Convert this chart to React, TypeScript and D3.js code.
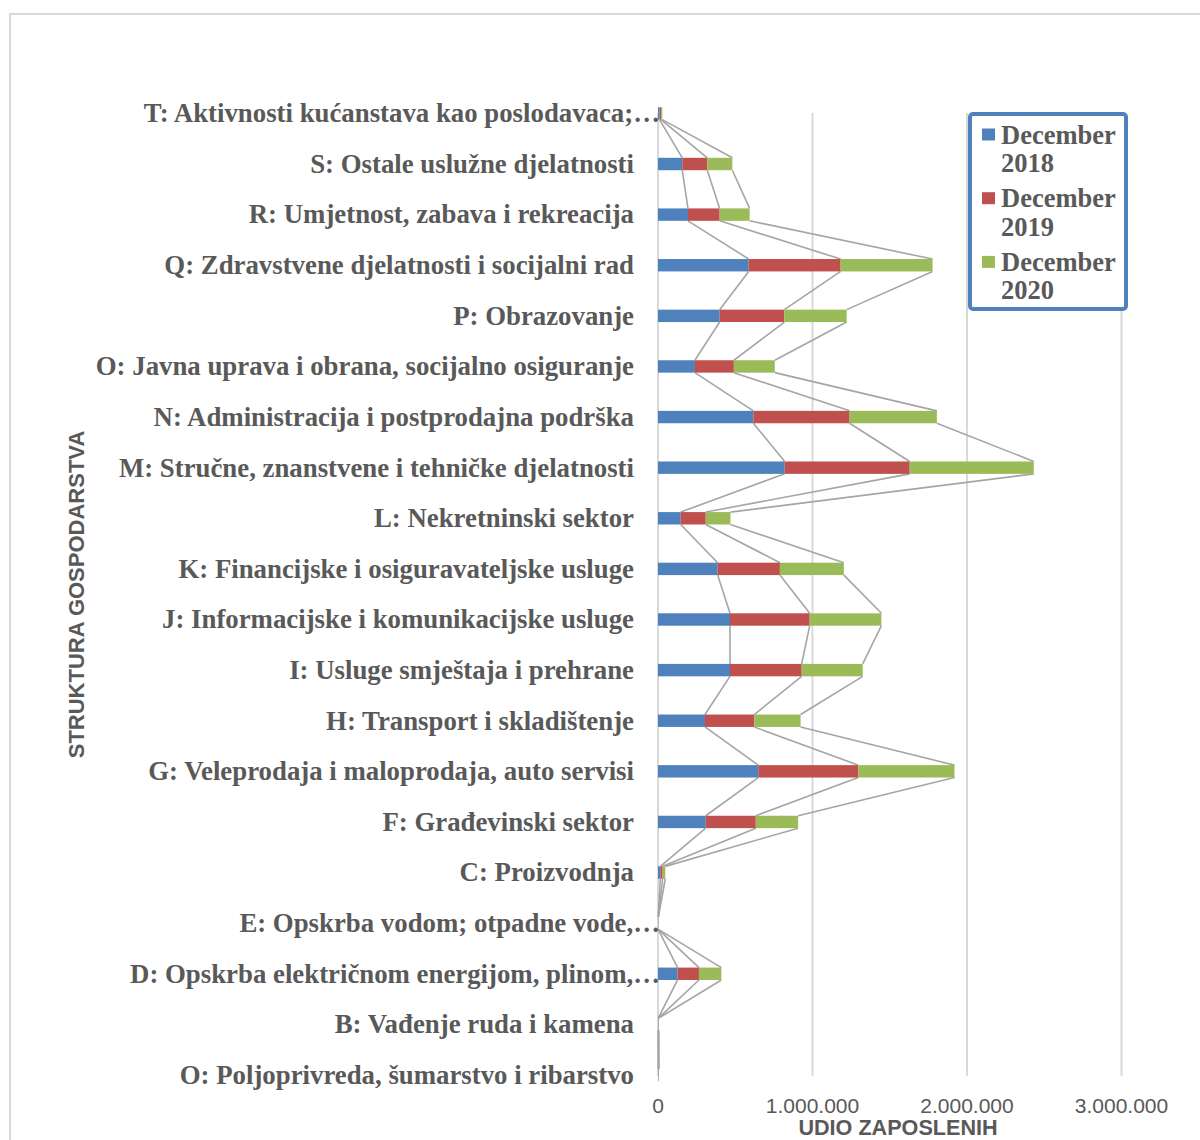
import React from 'react';
import * as d3 from 'd3';

// categories listed top to bottom as shown on the chart
const categories = [
  'T: Aktivnosti kućanstava kao poslodavaca;…',
  'S: Ostale uslužne djelatnosti',
  'R: Umjetnost, zabava i rekreacija',
  'Q: Zdravstvene djelatnosti i socijalni rad',
  'P: Obrazovanje',
  'O: Javna uprava i obrana, socijalno osiguranje',
  'N: Administracija i postprodajna podrška',
  'M: Stručne, znanstvene i tehničke djelatnosti',
  'L: Nekretninski sektor',
  'K: Financijske i osiguravateljske usluge',
  'J: Informacijske i komunikacijske usluge',
  'I: Usluge smještaja i prehrane',
  'H: Transport i skladištenje',
  'G: Veleprodaja i maloprodaja, auto servisi',
  'F: Građevinski sektor',
  'C: Proizvodnja',
  'E: Opskrba vodom; otpadne vode,…',
  'D: Opskrba električnom energijom, plinom,…',
  'B: Vađenje ruda i kamena',
  'O: Poljoprivreda, šumarstvo i ribarstvo',
];

const dec2018 = [10000, 157000, 194000, 587000, 399000, 239000, 617000, 820000, 147000, 386000, 466000, 466000, 304000, 649000, 309000, 15000, 1000, 127000, 1500, 2000];
const dec2019 = [10000, 162000, 205000, 595000, 419000, 252000, 623000, 809000, 162000, 403000, 516000, 464000, 319000, 647000, 324000, 15000, 1000, 138000, 1500, 2000];
const dec2020 = [8000, 162000, 194000, 595000, 403000, 265000, 565000, 803000, 160000, 414000, 464000, 395000, 300000, 623000, 274000, 17000, 1000, 145000, 1500, 2000];

const seriesNames = ['December 2018', 'December 2019', 'December 2020'];
const seriesColors = ['#4f81bd', '#c0504d', '#9bbb59'];
const xTicks = [0, 1000000, 2000000, 3000000];

const W = 1200;
const H = 1140;
const barH = 12.4;
const labelFont = '"Liberation Serif", "Times New Roman", serif';
const axisFont = '"Liberation Sans", Arial, sans-serif';
const textColor = '#595959';

const fmt = (v: number) => d3.format(',')(v).replace(/,/g, '.');

export default function App() {
  const x = d3.scaleLinear().domain([0, 3000000]).range([658, 1121.5]);
  const y = d3.scalePoint<string>().domain(categories).range([113.4, 1075]);

  const rows = categories.map((c, i) => ({ cat: c, s0: dec2018[i], s1: dec2019[i], s2: dec2020[i] }));
  const stacked = d3.stack<any>().keys(['s0', 's1', 's2'])(rows);

  const plotTop = 113;
  const plotBottom = 1076;

  // series lines: connect segment ends of neighbouring categories
  const seriesLines: { x1: number; y1: number; x2: number; y2: number }[] = [];
  stacked.forEach((layer) => {
    for (let i = 0; i < categories.length - 1; i++) {
      const a = layer[i];
      const b = layer[i + 1];
      seriesLines.push({
        x1: x(a[1]),
        y1: (y(categories[i]) as number) + barH / 2,
        x2: x(b[1]),
        y2: (y(categories[i + 1]) as number) - barH / 2,
      });
    }
  });

  const legendX = 970;
  const legendY = 114;

  return (
    <svg width={W} height={H} style={{ position: 'absolute', left: 0, top: 0, background: '#fff' }}>
      <rect x={0} y={0} width={W} height={H} fill="#fff" />
      {/* chart border */}
      <rect x={10} y={14} width={W + 20} height={H + 20} fill="none" stroke="#d9d9d9" strokeWidth={2} />

      {/* gridlines */}
      {xTicks.map((t) => (
        <line key={t} x1={x(t)} x2={x(t)} y1={plotTop} y2={plotBottom} stroke="#d9d9d9" strokeWidth={2} />
      ))}

      {/* series lines */}
      {seriesLines.map((l, i) => (
        <line key={i} x1={l.x1} y1={l.y1} x2={l.x2} y2={l.y2} stroke="#a5a5a5" strokeWidth={1.6} />
      ))}

      {/* bars */}
      {stacked.map((layer, si) => (
        <g key={si} fill={seriesColors[si]}>
          {layer.map((d, i) => (
            <rect
              key={i}
              x={x(d[0])}
              y={(y(categories[i]) as number) - barH / 2}
              width={Math.max(0, x(d[1]) - x(d[0]))}
              height={barH}
            />
          ))}
        </g>
      ))}

      {/* category labels */}
      {categories.map((c) => (
        <text
          key={c}
          x={c.endsWith('…') ? 660 : 634}
          y={y(c) as number}
          dy="0.33em"
          textAnchor="end"
          fontFamily={labelFont}
          fontWeight="bold"
          fontSize={26.8}
          fill={textColor}
        >
          {c}
        </text>
      ))}

      {/* x tick labels */}
      {xTicks.map((t) => (
        <text key={t} x={x(t)} y={1113} textAnchor="middle" fontFamily={axisFont} fontSize={21} fill={textColor}>
          {fmt(t)}
        </text>
      ))}

      {/* axis titles */}
      <text x={898} y={1135} textAnchor="middle" fontFamily={axisFont} fontWeight="bold" fontSize={21.6} fill={textColor}>
        UDIO ZAPOSLENIH
      </text>
      <text
        transform={`translate(84, ${(plotTop + plotBottom) / 2}) rotate(-90)`}
        textAnchor="middle"
        fontFamily={axisFont}
        fontWeight="bold"
        fontSize={22}
        fill={textColor}
      >
        STRUKTURA GOSPODARSTVA
      </text>

      {/* legend */}
      <rect x={legendX} y={legendY} width={156} height={195} rx={3} fill="#fff" stroke="#4f81bd" strokeWidth={4} />
      {seriesNames.map((name, i) => {
        const [w1, w2] = name.split(' ');
        const base = 143.5 + i * 63.7;
        return (
          <g key={name}>
            <rect x={982} y={base - 15} width={13} height={12} fill={seriesColors[i]} />
            <text x={1001} y={base} fontFamily={labelFont} fontWeight="bold" fontSize={26.5} fill={textColor}>
              {w1}
            </text>
            <text x={1001} y={base + 28.5} fontFamily={labelFont} fontWeight="bold" fontSize={26.5} fill={textColor}>
              {w2}
            </text>
          </g>
        );
      })}
    </svg>
  );
}
